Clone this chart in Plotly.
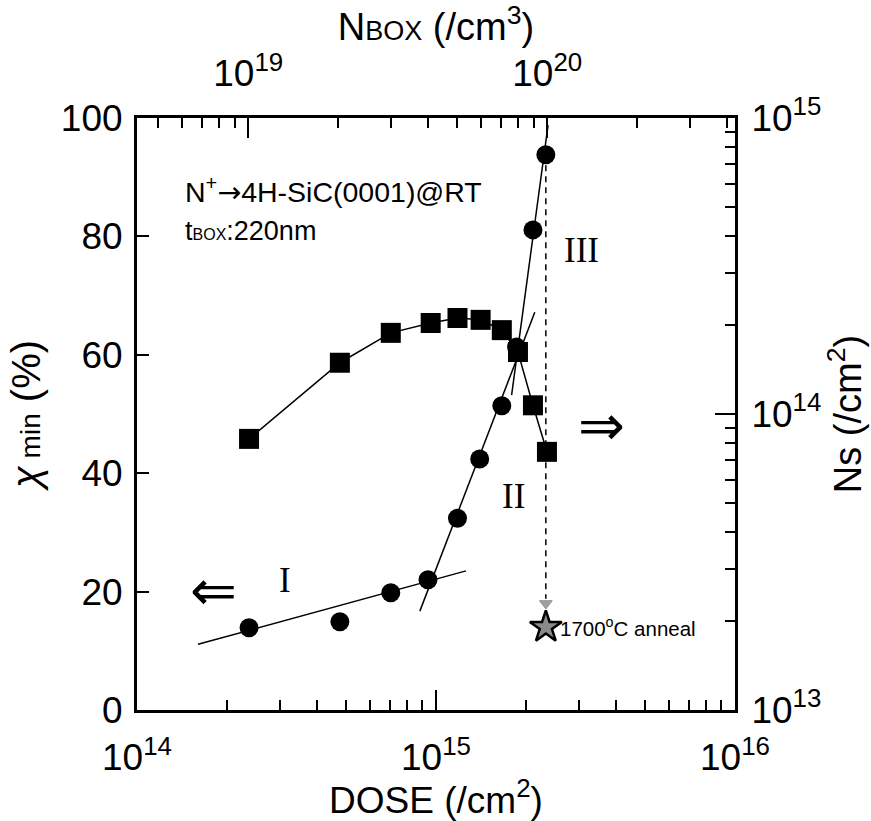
import plotly.graph_objects as go

# ---- data ----
dose_circ = [2.37e14, 4.77e14, 7.06e14, 9.4e14, 1.18e15, 1.40e15, 1.66e15, 1.86e15, 2.11e15, 2.33e15]
chi_min = [13.9, 14.9, 19.8, 22.0, 32.4, 42.4, 51.4, 61.3, 81.1, 93.8]

dose_sq = [2.37e14, 4.77e14, 7.06e14, 9.6e14, 1.18e15, 1.41e15, 1.66e15, 1.88e15, 2.11e15, 2.35e15]
ns = [8.24e13, 1.49e14, 1.88e14, 2.03e14, 2.11e14, 2.08e14, 1.92e14, 1.62e14, 1.07e14, 7.45e13]

# linear fit segments (regions I, II, III) on the chi_min axis
fit1_x = [1.60e14, 1.26e15]; fit1_y = [11.1, 23.5]
fit2_x = [8.83e14, 2.14e15]; fit2_y = [16.7, 67.2]
fit3_x = [1.79e15, 2.37e15]; fit3_y = [53.2, 98.8]

# annealing: dashed drop to the 1700C value
anneal_dose = 2.33e15
drop_y = [92.0, 18.8]
arrow_head_y = [18.0]
anneal_chi = [14.0]

x_major = [1e14, 1e15, 1e16]
x_major_txt = ["10<sup>14</sup>", "10<sup>15</sup>", "10<sup>16</sup>"]
x_minor = [k * 10 ** e for e in (14, 15) for k in range(2, 10)]
top_major = [1e19, 1e20]
top_major_txt = ["10<sup>19</sup>", "10<sup>20</sup>"]
top_minor = [k * 1e18 for k in range(5, 10)] + [k * 1e19 for k in range(2, 10)] + [k * 1e20 for k in range(2, 5)]
r_major = [1e13, 1e14, 1e15]
r_major_txt = ["10<sup>13</sup>", "10<sup>14</sup>", "10<sup>15</sup>"]
r_minor = [k * 10 ** e for e in (13, 14) for k in range(2, 10)]
y_ticks = [0, 20, 40, 60, 80, 100]

FONT = "Liberation Sans, Arial, DejaVu Sans"
BLACK = "black"

fig = go.Figure()

# squares (Ns, right axis)
fig.add_trace(go.Scatter(x=dose_sq, y=ns, xaxis="x", yaxis="y2", mode="lines+markers",
                         line=dict(color=BLACK, width=1.5),
                         marker=dict(symbol="square", size=20, color=BLACK), showlegend=False))
# fit lines
for fx, fy in ((fit1_x, fit1_y), (fit2_x, fit2_y), (fit3_x, fit3_y)):
    fig.add_trace(go.Scatter(x=fx, y=fy, mode="lines", line=dict(color=BLACK, width=1.5),
                             showlegend=False, hoverinfo="skip"))
# dashed drop line
fig.add_trace(go.Scatter(x=[anneal_dose, anneal_dose], y=drop_y, mode="lines",
                         line=dict(color=BLACK, width=1.5, dash="6px,5px"), showlegend=False))
fig.add_trace(go.Scatter(x=[anneal_dose], y=arrow_head_y, mode="markers",
                         marker=dict(symbol="triangle-down", size=11, color="#a0a0a0",
                                     line=dict(color="#909090", width=1)), showlegend=False))
# circles (chi_min, left axis)
fig.add_trace(go.Scatter(x=dose_circ, y=chi_min, mode="markers",
                         marker=dict(symbol="circle", size=19, color=BLACK), showlegend=False))
# anneal star
fig.add_trace(go.Scatter(x=[anneal_dose], y=anneal_chi, mode="markers",
                         marker=dict(symbol="star", size=24, color="#8a8a8a",
                                     line=dict(color=BLACK, width=2.5)), showlegend=False))
# invisible trace binding the top axis
fig.add_trace(go.Scatter(x=top_major, y=[None, None], xaxis="x2", yaxis="y", mode="markers",
                         marker=dict(opacity=0), showlegend=False, hoverinfo="skip"))

axis_common = dict(showline=True, linewidth=3, linecolor=BLACK, ticks="inside", tickwidth=2,
                   tickcolor=BLACK, showgrid=False, zeroline=False, automargin=False,
                   tickfont=dict(family=FONT, size=37, color=BLACK))

fig.update_layout(
    width=871, height=821,
    margin=dict(l=137, r=136, t=118, b=111),
    paper_bgcolor="white", plot_bgcolor="white",
    font=dict(family=FONT, color=BLACK),
    xaxis=dict(type="log", range=[14, 16], tickmode="array", tickvals=x_major, ticktext=x_major_txt,
               ticklen=20, ticklabelstandoff=13,
               minor=dict(tickmode="array", tickvals=x_minor, ticks="inside", ticklen=10,
                          tickwidth=2, tickcolor=BLACK),
               title=dict(text="DOSE (/cm<sup>2</sup>)", font=dict(family=FONT, size=37), standoff=2),
               **axis_common),
    xaxis2=dict(type="log", range=[18.628, 20.628], overlaying="x", side="top", anchor="y",
                tickmode="array", tickvals=top_major, ticktext=top_major_txt, ticklen=20,
                ticklabelstandoff=14,
                minor=dict(tickmode="array", tickvals=top_minor, ticks="inside", ticklen=10,
                           tickwidth=2, tickcolor=BLACK),
                title=dict(text="N<span style='font-size:27px'>BOX</span> (/cm<sup>3</sup>)",
                           font=dict(family=FONT, size=38), standoff=2),
                **axis_common),
    yaxis=dict(range=[0, 100], tickmode="array", tickvals=y_ticks, ticklen=12, ticklabelstandoff=4,
               title=dict(text="<i>χ</i><span style='font-size:28px'> min</span> (%)",
                          font=dict(family=FONT, size=40), standoff=8),
               **axis_common),
    yaxis2=dict(type="log", range=[13, 15], overlaying="y", side="right", anchor="x",
                tickmode="array", tickvals=r_major, ticktext=r_major_txt, ticklen=20,
                ticklabelstandoff=6,
                minor=dict(tickmode="array", tickvals=r_minor, ticks="inside", ticklen=10,
                           tickwidth=2, tickcolor=BLACK),
                title=dict(text="Ns (/cm<sup>2</sup>)", font=dict(family=FONT, size=38), standoff=10),
                **axis_common),
)

def px(xp, yp):
    return (xp - 137) / 598.0, (710 - yp) / 592.0

ARROW = "<span style='font-family:DejaVu Sans'>→</span>"
annots = [
    (183, 190, "N<sup>+</sup>" + ARROW + "4H-SiC(0001)@RT", 28.5, FONT, "left"),
    (183, 231, "t<span style='font-size:16px'>BOX</span>:220nm", 27, FONT, "left"),
    (285, 580, "I", 35, "Liberation Serif", "center"),
    (513, 497, "II", 35, "Liberation Serif", "center"),
    (581, 250, "III", 35, "Liberation Serif", "center"),
    (213, 590, "⇐", 56, "DejaVu Sans", "center"),
    (601, 425, "⇒", 56, "DejaVu Sans", "center"),
    (558, 627, "1700<sup>o</sup>C anneal", 20.5, FONT, "left"),
]
for xp, yp, txt, size, fam, anchor in annots:
    ax, ay = px(xp, yp)
    fig.add_annotation(x=ax, y=ay, xref="paper", yref="paper", text=txt, showarrow=False,
                       xanchor=anchor, yanchor="middle", font=dict(family=fam, size=size, color=BLACK))

fig.write_html("out.html", config={"displayModeBar": False},
               post_script="document.body.style.margin='0';document.body.style.padding='0';")
